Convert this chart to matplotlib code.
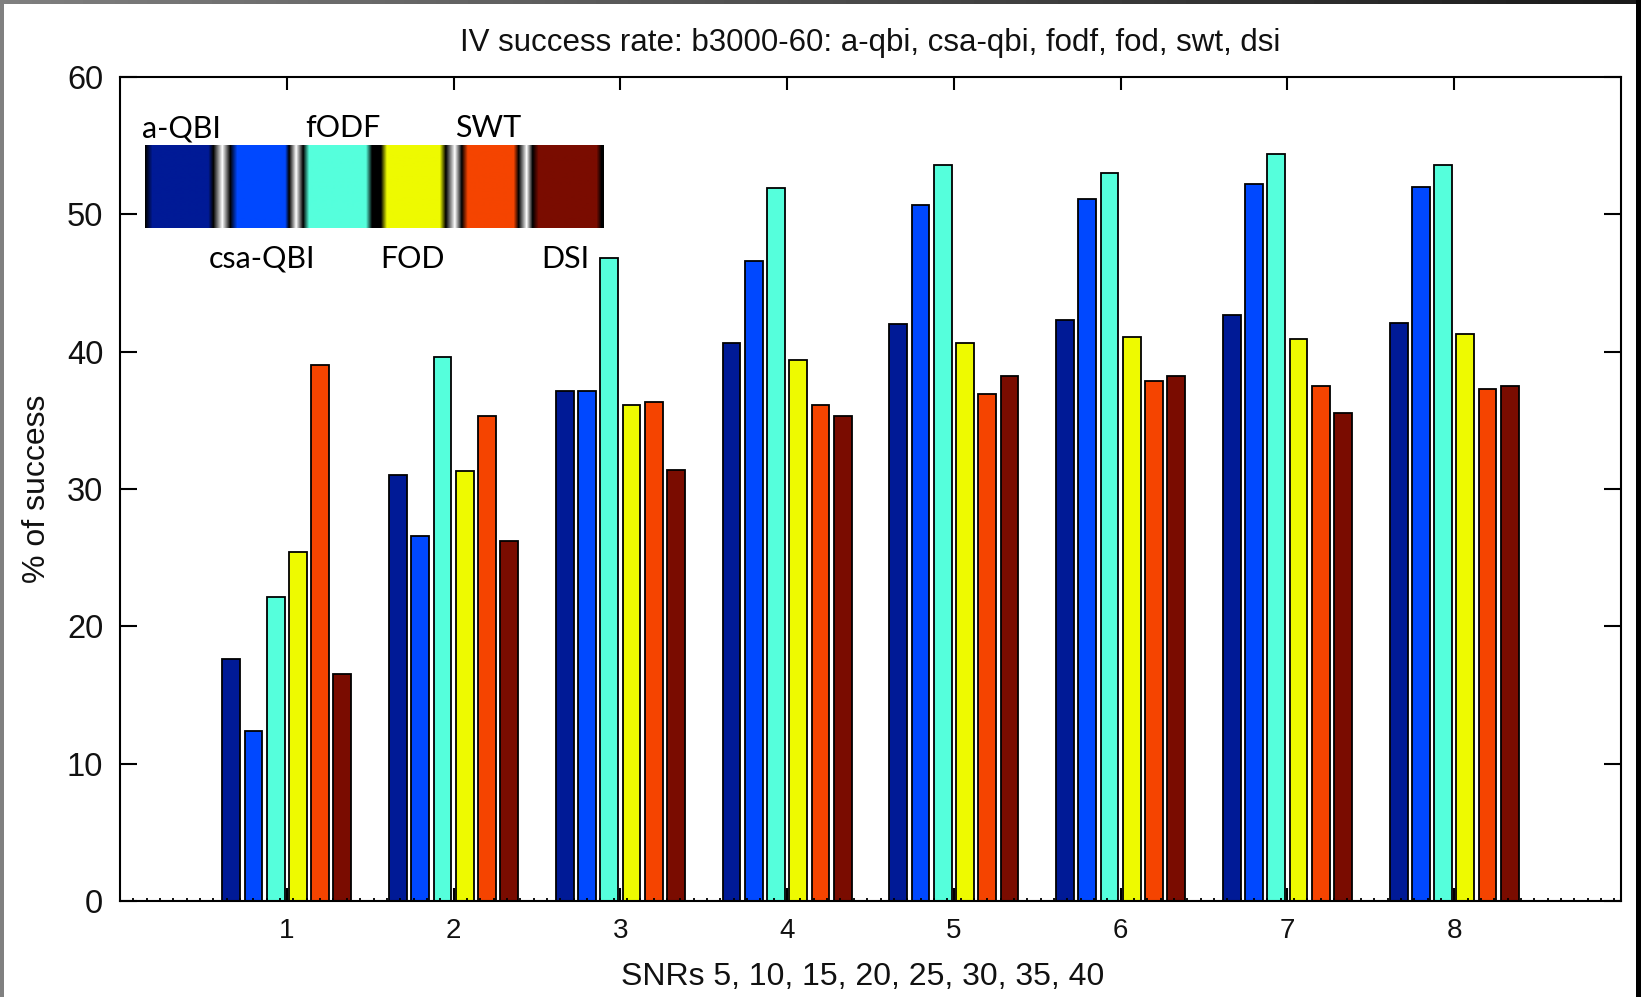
import numpy as np
import matplotlib
matplotlib.use("Agg")
import matplotlib.pyplot as plt
from matplotlib.ticker import MultipleLocator, FixedLocator
from matplotlib.patches import Rectangle

# ---- data -------------------------------------------------------------
snr_index = [1, 2, 3, 4, 5, 6, 7, 8]
methods = ["a-QBI", "csa-QBI", "fODF", "FOD", "SWT", "DSI"]
a_qbi   = [17.6, 31.0, 37.1, 40.6, 42.0, 42.3, 42.7, 42.1]
csa_qbi = [12.4, 26.6, 37.1, 46.6, 50.7, 51.1, 52.2, 52.0]
fodf    = [22.1, 39.6, 46.8, 51.9, 53.6, 53.0, 54.4, 53.6]
fod     = [25.4, 31.3, 36.1, 39.4, 40.6, 41.1, 40.9, 41.3]
swt     = [39.0, 35.3, 36.3, 36.1, 36.9, 37.9, 37.5, 37.3]
dsi     = [16.5, 26.2, 31.4, 35.3, 38.2, 38.2, 35.5, 37.5]
series = [a_qbi, csa_qbi, fodf, fod, swt, dsi]
colors = ["#001A96", "#0048FF", "#55FFDC", "#EEFA00", "#F54400", "#7A0C00"]

title = "IV success rate: b3000-60: a-qbi, csa-qbi, fodf, fod, swt, dsi"
xlabel = "SNRs 5, 10, 15, 20, 25, 30, 35, 40"
ylabel = "% of success"

# ---- figure -----------------------------------------------------------
W, H = 1641, 997
fig = plt.figure(figsize=(W / 100, H / 100), dpi=100)
fig.patch.set_facecolor("white")

def fx(px):
    return px / W

def fy(py):
    return 1 - py / H

ax_l, ax_r, ax_t, ax_b = 120, 1621, 77, 901
ax = fig.add_axes([fx(ax_l), fy(ax_b), fx(ax_r - ax_l), (ax_b - ax_t) / H])

txt_font = ["Liberation Sans", "DejaVu Sans"]

# grouped bars, MATLAB-style spacing
n = len(series)
pitch = 0.8 / n
width = pitch * 0.8
x = np.array(snr_index, dtype=float)
for i, (vals, c) in enumerate(zip(series, colors)):
    off = (i - (n - 1) / 2) * pitch
    ax.bar(x + off, vals, width=width, color=c, edgecolor="black",
           linewidth=1.3, zorder=1)

ax.set_xlim(0, 9)
ax.set_ylim(0, 60)
ax.xaxis.set_major_locator(FixedLocator(snr_index))
ax.xaxis.set_minor_locator(MultipleLocator(0.08))
ax.yaxis.set_major_locator(MultipleLocator(10))
ax.set_xticklabels([str(v) for v in snr_index])

for s in ax.spines.values():
    s.set_linewidth(1.5)

ax.tick_params(axis="x", which="major", direction="in", length=9.5, width=1.5,
               top=True, bottom=True, labelsize=20, pad=12)
ax.tick_params(axis="x", which="minor", direction="in", length=2.5, width=1.3,
               top=False, bottom=True)
ax.tick_params(axis="y", which="major", direction="in", length=12.5, width=1.5,
               left=True, right=True, labelsize=23.5, pad=12)
for lab in ax.get_xticklabels() + ax.get_yticklabels():
    lab.set_family(txt_font)
    lab.set_color("#111111")

ax.set_title(title, fontsize=22.5, family=txt_font, pad=18.5, color="#111111")
ax.set_xlabel(xlabel, fontsize=23, family=txt_font, color="#111111")
ax.xaxis.set_label_coords(0.495, -0.074)
ax.set_ylabel(ylabel, fontsize=23, family=txt_font, color="#111111")
ax.yaxis.set_label_coords(-0.045, 0.5)

# ---- colour key strip ---------------------------------------------------
k_l, k_r, k_t, k_b = 145, 604, 145, 228
blk = (0.0, 0.0, 0.0)
wht = (1.0, 1.0, 1.0)
rgb = [matplotlib.colors.to_rgb(c) for c in colors]
stops = [
    (145, blk), (152, rgb[0]), (208, rgb[0]),
    (213, blk), (222, wht), (230, blk),
    (237, rgb[1]), (285, rgb[1]),
    (289, blk), (296, wht), (303, blk),
    (309, rgb[2]), (366, rgb[2]),
    (372, blk), (381, blk),
    (387, rgb[3]), (440, rgb[3]),
    (446, blk), (455, wht), (462, blk),
    (468, rgb[4]), (514, rgb[4]),
    (519, blk), (527, wht), (533, blk),
    (539, rgb[5]), (597, rgb[5]),
    (602, blk), (604, blk),
]
sx = np.array([s[0] for s in stops], dtype=float)
sc = np.array([s[1] for s in stops])
cols = np.arange(k_l, k_r + 1, dtype=float)
strip = np.stack([np.interp(cols, sx, sc[:, j]) for j in range(3)], axis=-1)
strip = np.repeat(strip[None, :, :], 4, axis=0)
kax = fig.add_axes([fx(k_l), fy(k_b), fx(k_r - k_l), (k_b - k_t) / H])
kax.imshow(strip, aspect="auto", interpolation="bilinear")
kax.set_axis_off()

key_font = ["Lato", "DejaVu Sans"]
top_row = [(methods[0], 181), (methods[2], 343), (methods[4], 488)]
bot_row = [(methods[1], 262), (methods[3], 413), (methods[5], 565)]
for name, px in top_row:
    fig.text(fx(px), fy(137), name, ha="center", va="baseline",
             fontsize=22, family=key_font, color="black")
for name, px in bot_row:
    fig.text(fx(px), fy(268), name, ha="center", va="baseline",
             fontsize=22, family=key_font, color="black")

# ---- window edges -------------------------------------------------------
fig.add_artist(Rectangle((0, 0), fx(4), 1, transform=fig.transFigure,
                         facecolor="#808080", edgecolor="none", zorder=10))
fig.add_artist(Rectangle((fx(1636), 0), fx(W - 1636), 1, transform=fig.transFigure,
                         facecolor="black", edgecolor="none", zorder=10))
tax = fig.add_axes([0, fy(4), 1, 4 / H], zorder=9)
grad = np.linspace(0.5, 0.1, 256)
tax.imshow(np.repeat(grad[None, :], 2, axis=0), cmap="gray", vmin=0, vmax=1,
           aspect="auto")
tax.set_axis_off()

fig.savefig("out.png", dpi=100, facecolor="white")
